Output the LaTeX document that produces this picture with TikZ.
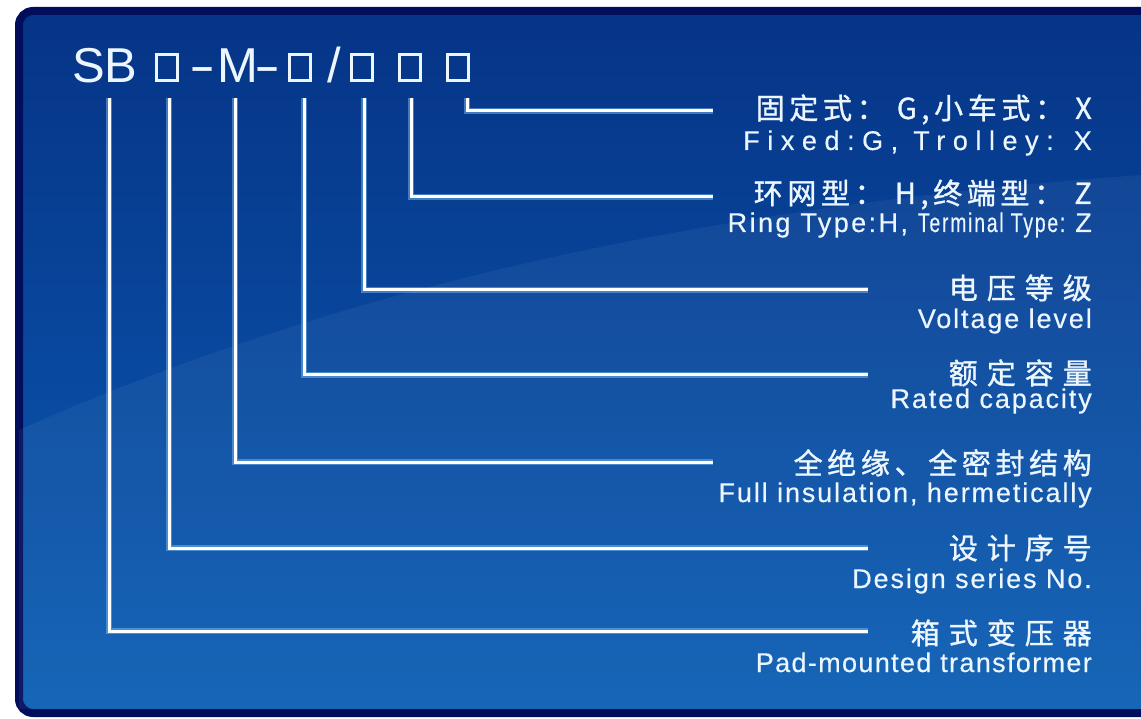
\documentclass[tikz,border=0pt]{standalone}
\usepackage{fontspec}
\setmainfont{Liberation Sans}
\newfontfamily\cjkA[LetterSpace=31, FakeBold=1.1]{Noto Sans CJK SC}
\newfontfamily\cjkB[LetterSpace=16, FakeBold=1.1]{Noto Sans CJK SC}
\newfontfamily\enA[LetterSpace=7, FakeBold=0.4]{Liberation Sans}
\newfontfamily\enFix[LetterSpace=28, FakeBold=0.4]{Liberation Sans}
\newfontfamily\enFull[LetterSpace=7, FakeBold=0.4]{Liberation Sans}
\newfontfamily\enRing[LetterSpace=9, FakeBold=0.4]{Liberation Sans}
\newfontfamily\enPad[LetterSpace=5, FakeBold=0.4]{Liberation Sans}
\usetikzlibrary{calc}
\definecolor{bgtop}{RGB}{6,52,134}
\definecolor{bgmid}{RGB}{8,72,158}
\definecolor{bgbot}{RGB}{10,94,180}
\definecolor{framecol}{RGB}{2,14,92}
\definecolor{glow}{RGB}{140,200,255}
\definecolor{txt}{RGB}{236,246,255}
\begin{document}
\begin{tikzpicture}[x=1pt,y=-1pt,
  cnA/.style={anchor=base east, inner sep=0pt, text=txt, font=\cjkA\fontsize{29}{32}\selectfont},
  cnB/.style={anchor=base east, inner sep=0pt, text=txt, font=\cjkB\fontsize{29}{32}\selectfont},
  en/.style={anchor=base east, inner sep=0pt, text=txt, font=\enA\fontsize{27}{30}\selectfont},
  title/.style={anchor=base, inner sep=0pt, text=txt, font=\fontsize{49}{52}\selectfont},
  sqbox/.style={draw=txt, line width=2.7pt, minimum width=21pt, minimum height=26pt, inner sep=0pt},
  leader/.style={draw=white, line width=3pt, preaction={draw=glow, line width=6pt, opacity=.45}}]
\useasboundingbox (0,0) rectangle (1141,719);
\begin{scope}
  \clip (0,0) rectangle (1141,719);
  \fill[white] (0,0) rectangle (1141,719);
  \path[rounded corners=14, draw=framecol, line width=8pt, top color=bgtop, bottom color=bgbot, middle color=bgmid] (19,11) rectangle (1170,713);
  \fill[white, opacity=.05] (19,430) .. controls (400,260) and (800,200) .. (1141,175) -- (1141,709) -- (19,709) -- cycle;
\end{scope}

% title
\node[title, anchor=base west] (sb) at (72,83) {SB};
\node[sqbox] (sq1) at (167,67.5) {};
\node[title] (d1) at (203,83) {\scalebox{1.6}[1]{-}};
\node[title] (m) at (238,83) {M};
\node[title] (d2) at (268,83) {\scalebox{1.6}[1]{-}};
\node[sqbox] (sq2) at (300,67.5) {};
\node[title] (sl) at (334,83) {/};
\node[sqbox] (sq3) at (362,67.5) {};
\node[sqbox] (sq4) at (410,67.5) {};
\node[sqbox] (sq5) at (458,67.5) {};

% connector ends
\coordinate (t1) at (109,98);  \coordinate (e1) at (868,631);
\coordinate (t2) at (169,98);  \coordinate (e2) at (868,548);
\coordinate (t3) at (235,98);  \coordinate (e3) at (713,462);
\coordinate (t4) at (304,98);  \coordinate (e4) at (868,375);
\coordinate (t5) at (364,98);  \coordinate (e5) at (868,290);
\coordinate (t6) at (411,98);  \coordinate (e6) at (713,197);
\coordinate (t7) at (467,98);  \coordinate (e7) at (713,111);

\draw[leader] (t1) |- (e1);
\draw[leader] (t2) |- (e2);
\draw[leader] (t3) |- (e3);
\draw[leader] (t4) |- (e4);
\draw[leader] (t5) |- (e5);
\draw[leader] (t6) |- (e6);
\draw[leader] (t7) |- (e7);

% labels
\node[cnB] (c7) at (1092,119) {固定式： G,小车式： X};
\node[en, font=\enFix\fontsize{27}{30}\selectfont] (n7) at (1092,150) {Fixed:G, Trolley: X};
\node[cnB] (c6) at (1092,204) {环网型： H,终端型： Z};
\node[en, font=\enRing\fontsize{27}{30}\selectfont] (n6) at (1092,232) {Ring Type:H, \scalebox{0.72}[1]{Terminal Type:} Z};
\node[cnA] (c5) at (1092,299) {电压等级};
\node[en] (n5) at (1092,328) {Voltage level};
\node[cnA] (c4) at (1092,384) {额定容量};
\node[en] (n4) at (1092,408) {Rated capacity};
\node[cnB] (c3) at (1092,474) {全绝缘、全密封结构};
\node[en, font=\enFull\fontsize{27}{30}\selectfont] (n3) at (1092,502) {Full insulation, hermetically};
\node[cnA] (c2) at (1092,559) {设计序号};
\node[en] (n2) at (1092,588) {Design series No.};
\node[cnA] (c1) at (1092,644) {箱式变压器};
\node[en, font=\enPad\fontsize{27}{30}\selectfont] (n1) at (1092,672) {Pad-mounted transformer};
\end{tikzpicture}
\end{document}
